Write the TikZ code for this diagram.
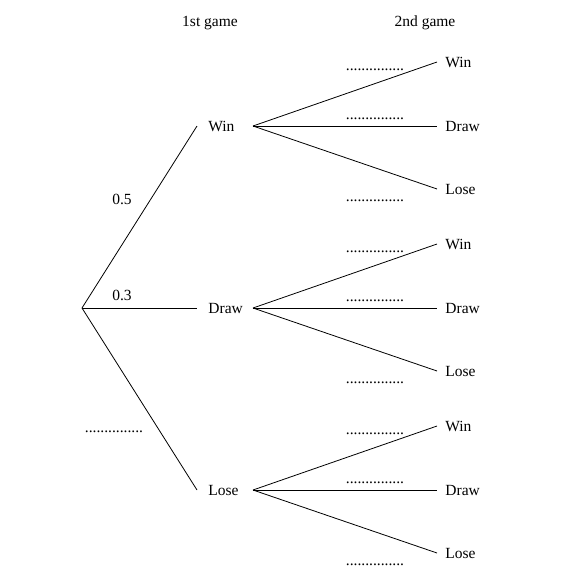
\documentclass[tikz,border=0pt]{standalone}
\usepackage{fontspec}
\setmainfont{Liberation Serif}
\usepackage{tikz}
\usetikzlibrary{positioning}
\tikzset{lbl/.style = {inner sep=2pt,font=\fontsize{15.5}{18}\selectfont},
         dotrow/.style = {inner sep=0pt,anchor=base,font=\fontsize{15.5}{18}\selectfont}}

\begin{document}
\begin{tikzpicture}[x=1pt,y=-1pt,line width=0.8pt]
            \useasboundingbox (0,0) rectangle (585,579);
            \node[lbl] (first) at (210,23) {1st game};
            \node[lbl] (second) at (425,23) {2nd game};
            \coordinate (root) at (82,308);
            \foreach \g/\y/\t in {win/126/Win, draw/308/Draw, lose/490/Lose} {
                \coordinate (\g-i) at (197,\y);
                \node[lbl,right=9pt of \g-i] (\g) {\t};
                \draw (root) -- (\g-i);
                \coordinate (\g-o) at (253,\y);
                \foreach \h/\d/\s in {win/-64/Win, draw/0/Draw, lose/63/Lose} {
                    \coordinate (\g-\h-i) at (437,\y+\d);
                    \node[lbl,right=6pt of \g-\h-i] (\g-\h) {\s};
                    \draw (\g-o) -- (\g-\h-i);
                }
                \node[dotrow] (\g-p1) at (375,\y-56) {...............};
                \node[dotrow] (\g-p2) at (375,\y-7) {...............};
                \node[dotrow] (\g-p3) at (375,\y+75) {...............};
            }
            \node[lbl] (pwin) at (122,199) {0.5};
            \node[lbl] (pdraw) at (122,295) {0.3};
            \node[dotrow] (plose) at (114,432) {...............};
        \end{tikzpicture}
\end{document}
